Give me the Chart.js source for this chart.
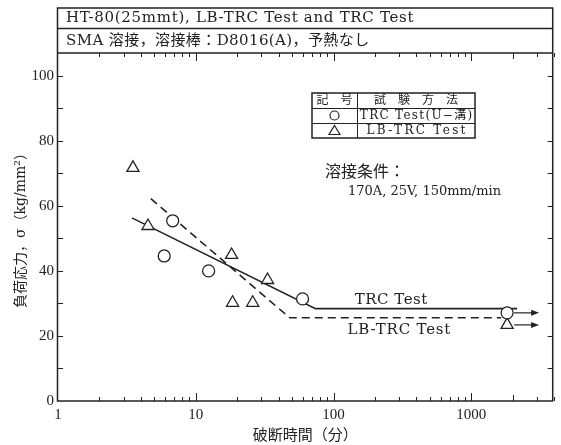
<!DOCTYPE html>
<html>
<head>
<meta charset="utf-8">
<script src="https://cdn.jsdelivr.net/npm/chart.js@4/dist/chart.umd.min.js"></script>
<style>
  html, body { margin: 0; padding: 0; background: #fff; }
  #wrap { width: 561px; height: 445px; }
</style>
</head>
<body>
<div id="wrap"><canvas id="crackChart" width="561" height="445"></canvas></div>
<script>
// 破断時間(分) と 負荷応力 (kg/mm2) — 図から読み取った値
const trcTime   = [5.9, 6.8, 12.4, 59.6, 1820];
const trcStress = [44.6, 55.4, 40.0, 31.4, 27.1];
const lbTime    = [3.5, 4.5, 18.2, 18.5, 25.9, 33.2, 1820];
const lbStress  = [71.7, 53.8, 44.9, 30.2, 30.2, 37.2, 23.4];

// 傾向線 (折れ線)
const trcLineTime   = [3.44, 74, 2150];
const trcLineStress = [56.3, 28.4, 28.4];
const lbLineTime    = [4.72, 48, 1650];
const lbLineStress  = [62.2, 25.6, 25.6];

// 目盛り
const xLabels = [1, 10, 100, 1000];
const yLabels = [0, 20, 40, 60, 80, 100];

const INK = '#222';
const SERIF = "'Liberation Serif','Noto Sans CJK JP',serif";
const WIDE = "'DejaVu Serif','Noto Sans CJK JP',serif";

function pts(xs, ys) { return xs.map((x, i) => ({ x: x, y: ys[i] })); }

// 字間つきテキスト
function spaced(ctx, text, x, y, sp) {
  ctx.letterSpacing = sp + 'px';
  const shift = ctx.textAlign === 'center' ? sp / 2 : 0;
  ctx.fillText(text, x + shift, y);
  ctx.letterSpacing = '0px';
}

// 枠・目盛り・表・注記を描くプラグイン
const decor = {
  id: 'decor',
  beforeDatasetsDraw(chart) {
    const ctx = chart.ctx;
    const a = chart.chartArea;
    const xs = chart.scales.x, ys = chart.scales.y;
    ctx.save();
    ctx.strokeStyle = INK;
    ctx.lineWidth = 1.5;
    // 全体の枠 + ヘッダ
    ctx.strokeRect(a.left - 0.5, 8, a.right - a.left + 0.5, a.bottom - 8);
    ctx.beginPath();
    ctx.moveTo(a.left, 28.5); ctx.lineTo(a.right, 28.5);
    ctx.moveTo(a.left, a.top); ctx.lineTo(a.right, a.top);
    ctx.stroke();

    // x 目盛り (下・上とも内向き)
    ctx.lineWidth = 1;
    ctx.beginPath();
    for (let d = 1; d <= 1000; d *= 10) {
      for (let k = 1; k <= 9; k++) {
        const v = d * k;
        if (v === 1) continue;
        const px = Math.round(xs.getPixelForValue(v)) + 0.5;
        const len = k === 1 ? 8 : 4;
        ctx.moveTo(px, a.bottom); ctx.lineTo(px, a.bottom - len);
        ctx.moveTo(px, a.top); ctx.lineTo(px, a.top + len);
      }
    }
    const px2k = Math.round(xs.getPixelForValue(2000)) + 0.5;
    ctx.moveTo(px2k, a.bottom); ctx.lineTo(px2k, a.bottom - 6);
    ctx.moveTo(px2k, a.top); ctx.lineTo(px2k, a.top + 6);
    // y 目盛り (左・右)
    for (let v = 10; v <= 100; v += 10) {
      const py = Math.round(ys.getPixelForValue(v)) + 0.5;
      ctx.moveTo(a.left, py); ctx.lineTo(a.left + 5, py);
      ctx.moveTo(a.right, py); ctx.lineTo(a.right - 5, py);
    }
    ctx.stroke();

    // ヘッダ文字
    ctx.fillStyle = INK;
    ctx.textBaseline = 'middle';
    ctx.textAlign = 'left';
    ctx.font = '15px ' + WIDE;
    spaced(ctx, 'HT-80(25mmt), LB-TRC Test and TRC Test', 66, 18.5, 0.7);
    spaced(ctx, 'SMA 溶接，溶接棒：D8016(A)，予熱なし', 66, 41, 0.4);

    // 記号表
    const tl = 312, tr = 475, tt = 93, rh = 15, tc = 357;
    ctx.lineWidth = 1.5;
    ctx.strokeRect(tl, tt, tr - tl, rh * 3);
    ctx.lineWidth = 1;
    ctx.beginPath();
    ctx.moveTo(tl, tt + rh + 0.5); ctx.lineTo(tr, tt + rh + 0.5);
    ctx.moveTo(tl, tt + 2 * rh + 0.5); ctx.lineTo(tr, tt + 2 * rh + 0.5);
    ctx.moveTo(tc + 0.5, tt); ctx.lineTo(tc + 0.5, tt + 3 * rh);
    ctx.stroke();
    ctx.textAlign = 'center';
    ctx.font = '12px ' + WIDE;
    ctx.fillText('記　号', (tl + tc) / 2, tt + rh / 2 + 0.5);
    ctx.fillText('試　験　方　法', (tc + tr) / 2, tt + rh / 2 + 0.5);
    spaced(ctx, 'TRC Test(U−溝)', (tc + tr) / 2, tt + rh * 1.5 + 0.5, 1.3);
    spaced(ctx, 'LB-TRC Test', (tc + tr) / 2, tt + rh * 2.5 + 0.5, 2.3);
    const sx = (tl + tc) / 2;
    ctx.lineWidth = 1.2;
    ctx.beginPath();
    ctx.arc(sx, tt + rh * 1.5, 4.5, 0, Math.PI * 2);
    ctx.stroke();
    ctx.beginPath();
    ctx.moveTo(sx, tt + rh * 2.5 - 5);
    ctx.lineTo(sx + 5.5, tt + rh * 2.5 + 4);
    ctx.lineTo(sx - 5.5, tt + rh * 2.5 + 4);
    ctx.closePath();
    ctx.stroke();

    // 溶接条件
    ctx.textAlign = 'left';
    ctx.font = '16px ' + WIDE;
    ctx.fillText('溶接条件：', 325, 173);
    ctx.font = '13px ' + WIDE;
    ctx.fillText('170A, 25V, 150mm/min', 348, 192);

    // 線のラベル
    ctx.font = '15px ' + WIDE;
    ctx.textAlign = 'center';
    spaced(ctx, 'TRC Test', 391, 300, 0.5);
    spaced(ctx, 'LB-TRC Test', 399, 330, 0.8);
    ctx.restore();
  },
  afterDatasetsDraw(chart) {
    // 未破断 (→) の矢印
    const ctx = chart.ctx;
    const xs = chart.scales.x, ys = chart.scales.y;
    const ends = [
      [trcTime[trcTime.length - 1], trcStress[trcStress.length - 1]],
      [lbTime[lbTime.length - 1], lbStress[lbStress.length - 1]]
    ];
    ctx.save();
    ctx.strokeStyle = INK;
    ctx.fillStyle = INK;
    ctx.lineWidth = 1.2;
    ends.forEach(([t, s]) => {
      const x0 = xs.getPixelForValue(t) + 7;
      const y0 = ys.getPixelForValue(s);
      ctx.beginPath();
      ctx.moveTo(x0, y0); ctx.lineTo(x0 + 20, y0);
      ctx.stroke();
      ctx.beginPath();
      ctx.moveTo(x0 + 25, y0);
      ctx.lineTo(x0 + 17, y0 - 3);
      ctx.lineTo(x0 + 17, y0 + 3);
      ctx.closePath();
      ctx.fill();
    });
    ctx.restore();
  }
};

const ctxA = document.getElementById('crackChart');
const crackChart = new Chart(ctxA, {
  type: 'scatter',
  data: {
    datasets: [
      {
        label: 'TRC Test(U-溝)',
        data: pts(trcTime, trcStress),
        pointStyle: 'circle',
        pointRadius: 6,
        pointBackgroundColor: '#fff',
        pointBorderColor: INK,
        pointBorderWidth: 1.3
      },
      {
        label: 'LB-TRC Test',
        data: pts(lbTime, lbStress),
        pointStyle: 'triangle',
        pointRadius: 7,
        pointBackgroundColor: '#fff',
        pointBorderColor: INK,
        pointBorderWidth: 1.3
      },
      {
        label: 'TRC Test line',
        data: pts(trcLineTime, trcLineStress),
        showLine: true,
        pointRadius: 0,
        borderColor: INK,
        borderWidth: 1.6
      },
      {
        label: 'LB-TRC Test line',
        data: pts(lbLineTime, lbLineStress),
        showLine: true,
        pointRadius: 0,
        borderColor: INK,
        borderWidth: 1.6,
        borderDash: [8, 5]
      }
    ]
  },
  options: {
    responsive: false,
    animation: false,
    layout: { padding: { left: 0, top: 53, right: 7, bottom: 0 } },
    scales: {
      x: {
        type: 'logarithmic',
        min: 1,
        max: 3900,
        grid: { display: false, drawTicks: false },
        border: { display: false },
        afterBuildTicks: (scale) => { scale.ticks = xLabels.map(v => ({ value: v })); },
        afterFit: (scale) => { scale.height = 44; },
        ticks: {
          autoSkip: false,
          maxRotation: 0,
          padding: 5,
          color: INK,
          font: { family: SERIF, size: 15 },
          callback: (v) => String(v)
        },
        title: {
          display: true,
          text: '破断時間（分）',
          color: INK,
          font: { family: WIDE, size: 15 },
          padding: { top: 0, bottom: 0 }
        }
      },
      y: {
        min: 0,
        max: 107,
        grid: { display: false, drawTicks: false },
        border: { display: false },
        afterBuildTicks: (scale) => { scale.ticks = yLabels.map(v => ({ value: v })); },
        afterFit: (scale) => { scale.width = 58; },
        ticks: {
          padding: 4,
          color: INK,
          font: { family: SERIF, size: 15 }
        },
        title: {
          display: true,
          text: '負荷応力，σ（kg/mm²）',
          color: INK,
          font: { family: WIDE, size: 14 },
          padding: { top: 13, bottom: 0 }
        }
      }
    },
    plugins: {
      legend: { display: false },
      tooltip: { enabled: false }
    }
  },
  plugins: [decor]
});
</script>
</body>
</html>
